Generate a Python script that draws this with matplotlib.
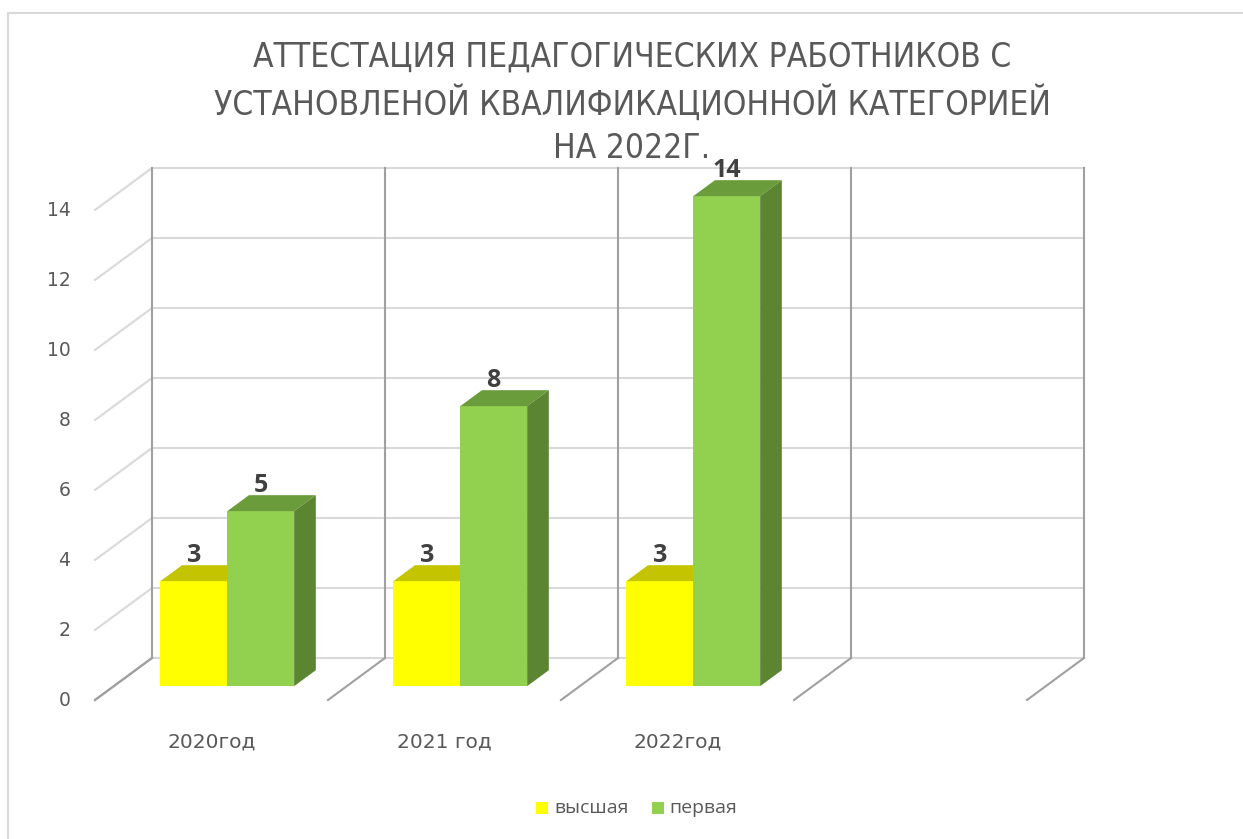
import numpy as np
import matplotlib.pyplot as plt
from matplotlib.patches import Polygon, Rectangle

categories = ['2020год', '2021 год', '2022год', '']
vysshaya = [3, 3, 3]
pervaya = [5, 8, 14]
series_names = ['высшая', 'первая']
yticks = [0, 2, 4, 6, 8, 10, 12, 14]
title = 'АТТЕСТАЦИЯ ПЕДАГОГИЧЕСКИХ РАБОТНИКОВ С\nУСТАНОВЛЕНОЙ КВАЛИФИКАЦИОННОЙ КАТЕГОРИЕЙ\nНА 2022Г.'

W, H = 1243, 839
fig = plt.figure(figsize=(W / 100, H / 100), dpi=100)
ax = fig.add_axes([0, 0, 1, 1])
# data units: x = category slot, y = value; origin of front plane at pixel (95,700)
ux, uy = 233.0, 35.0
ax.set_xlim(-95 / ux, (W - 95) / ux)
ax.set_ylim((700 - H) / uy, 700 / uy)
ax.axis('off')

# chart border
fig.patches.append(Rectangle((8 / W, -0.1), 1.2, (H - 13) / H + 0.1, transform=fig.transFigure,
                             fill=False, edgecolor='#d9d9d9', lw=1.5))

SX, SY = 57 / ux, 42 / uy   # full depth shift
ymax = 14
ncat = len(categories)
light = '#d9d9d9'
dark = '#a0a0a0'

# back wall gridlines
for v in yticks:
    ax.plot([SX, ncat + SX], [v + SY, v + SY], color=light, lw=1.5, zorder=1)
# side wall lines
for v in yticks:
    ax.plot([0, SX], [v, v + SY], color=dark if v == 0 else light, lw=1.5, zorder=1)
# back wall verticals and floor diagonals
for k in range(ncat + 1):
    ax.plot([k + SX, k + SX], [SY, ymax + SY], color=dark, lw=1.5, zorder=1)
    ax.plot([k, k + SX], [0, SY], color=dark, lw=1.5, zorder=1)

# bars
f0, f1 = 0.33, 0.71
bx0, by0 = f0 * SX, f0 * SY
ddx, ddy = (f1 - f0) * SX, (f1 - f0) * SY
bw = 0.287
off = 0.2

def draw_bar(x, v, front, top, side):
    ax.bar(x, v, width=bw, bottom=by0, align='edge', color=front, zorder=3)
    t = by0 + v
    ax.add_patch(Polygon([(x, t), (x + bw, t), (x + bw + ddx, t + ddy), (x + ddx, t + ddy)],
                         closed=True, facecolor=top, edgecolor='none', zorder=3))
    ax.add_patch(Polygon([(x + bw, by0), (x + bw + ddx, by0 + ddy), (x + bw + ddx, t + ddy), (x + bw, t)],
                         closed=True, facecolor=side, edgecolor='none', zorder=3))
    ax.text(x + bw / 2, t + ddy - 0.08, str(v), ha='center', va='bottom',
            fontsize=18, fontweight='bold', family='Open Sans', color='#404040', zorder=4)

for k in range(len(vysshaya)):
    x1 = k + bx0 + off
    draw_bar(x1, vysshaya[k], '#ffff00', '#c4c400', '#a8a800')
    draw_bar(x1 + bw, pervaya[k], '#92d050', '#6a9c3b', '#5c8532')

# y tick labels
for v in yticks:
    ax.text(-0.105, v, str(v), ha='right', va='center', fontsize=13.5, color='#595959',
            family='DejaVu Sans')

# category labels
for k, c in enumerate(categories):
    ax.text(k + 0.5, -1.2, c, ha='center', va='center', fontsize=14.5, color='#595959',
            family='DejaVu Sans')

# title, squeezed to the reference width
tt = fig.text(632 / W, 1 - 103 / H, title, ha='center', va='center', fontsize=24,
              family='DejaVu Sans', fontstretch='condensed', color='#595959', linespacing=1.4)
fig.canvas.draw()
tw = tt.get_window_extent().width
if tw > 850:
    tt.set_fontsize(24 * 840 / tw)

# legend
ly = 1 - 808 / H
sq = 12
fig.patches.append(Rectangle((536 / W, ly - sq / 2 / H), sq / W, sq / H, transform=fig.transFigure,
                             facecolor='#ffff00', edgecolor='none'))
fig.text(554 / W, ly, series_names[0], ha='left', va='center', fontsize=14, family='Open Sans',
         color='#595959')
fig.patches.append(Rectangle((652 / W, ly - sq / 2 / H), sq / W, sq / H, transform=fig.transFigure,
                             facecolor='#92d050', edgecolor='none'))
fig.text(669 / W, ly, series_names[1], ha='left', va='center', fontsize=14, family='Open Sans',
         color='#595959')

fig.savefig('out.png', dpi=100)
